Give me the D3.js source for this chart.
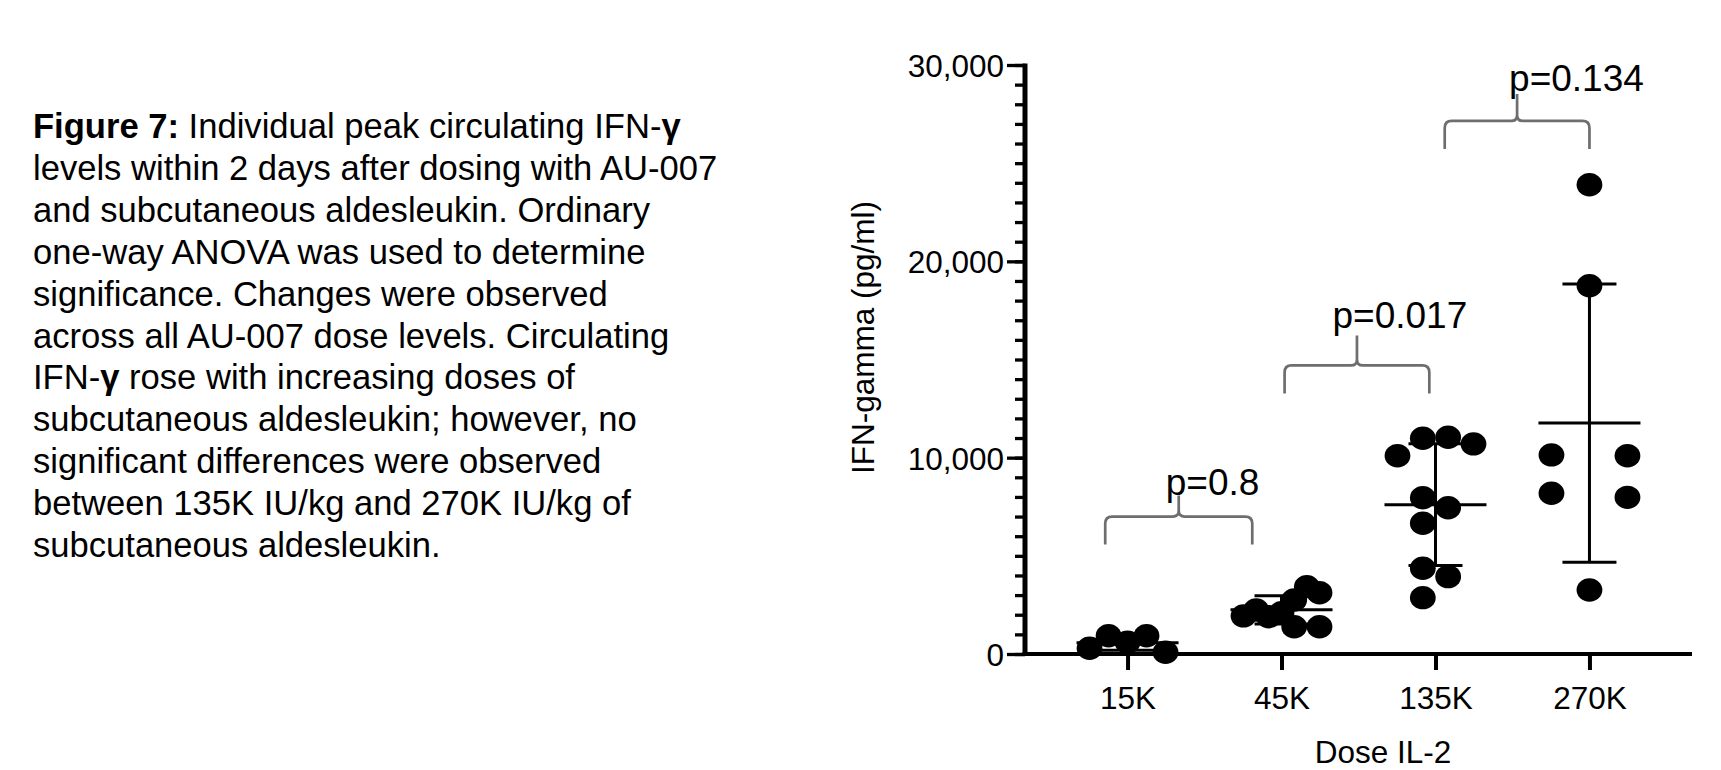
<!DOCTYPE html>
<html>
<head>
<meta charset="utf-8">
<script src="https://cdn.jsdelivr.net/npm/d3@7"></script>
<style>
  html, body { margin: 0; padding: 0; background: #fff; }
  svg { display: block; }
  text { font-family: "Liberation Sans", Arial, Helvetica, sans-serif; fill: #000; }
</style>
</head>
<body>
<svg id="chart" width="1721" height="770"></svg>
<script>
// Dose groups (IL-2, IU/kg) and individual peak IFN-gamma values (pg/ml)
const doses = ["15K", "45K", "135K", "270K"];
const ifn15K  = [290, 930, 600, 930, 90];
const ifn45K  = [1940, 2240, 1900, 2100, 2750, 3430, 3120, 1390, 1390];
const ifn135K = [10100, 10990, 11040, 10700, 7960, 7450, 6660, 4370, 3940, 2870];
const ifn270K = [23900, 18760, 10140, 10100, 8190, 7980, 3260];

// Column slot of each dot inside its group (scatter spread, in dot-width units)
const slot15K  = [-1.5, -0.75, 0, 0.75, 1.5];
const slot45K  = [-1.5, -1, -0.5, 0, 0.5, 1, 1.5, 0.5, 1.5];
const slot135K = [-1.5, -0.5, 0.5, 1.5, -0.5, 0.5, -0.5, -0.5, 0.5, -0.5];
const slot270K = [0, 0, -1.5, 1.5, -1.5, 1.5, 0];

// Axis ticks
const yMajorTicks = [0, 10000, 20000, 30000];
const yMinorStep = 1000;

// Pairwise comparisons (one-way ANOVA)
const comparePairs = [["15K", "45K"], ["45K", "135K"], ["135K", "270K"]];
const pLabels = ["p=0.8", "p=0.017", "p=0.134"];
const bracketLevels = [7000, 14700, 27150];

// Caption
const captionLines = [
  [{t: "Figure 7:", b: true}, {t: " Individual peak circulating IFN-"}, {t: "\u03b3", b: true}],
  [{t: "levels within 2 days after dosing with AU-007"}],
  [{t: "and subcutaneous aldesleukin. Ordinary"}],
  [{t: "one-way ANOVA was used to determine"}],
  [{t: "significance. Changes were observed"}],
  [{t: "across all AU-007 dose levels. Circulating"}],
  [{t: "IFN-"}, {t: "\u03b3", b: true}, {t: " rose with increasing doses of"}],
  [{t: "subcutaneous aldesleukin; however, no"}],
  [{t: "significant differences were observed"}],
  [{t: "between 135K IU/kg and 270K IU/kg of"}],
  [{t: "subcutaneous aldesleukin."}]
];

const groups = doses.map((d, i) => ({
  dose: d,
  values: [ifn15K, ifn45K, ifn135K, ifn270K][i],
  slots: [slot15K, slot45K, slot135K, slot270K][i]
}));

const svg = d3.select("#chart");

// ---- caption block ----
const capX = 33, capY = 138, capLead = 41.9;
const cap = svg.append("text")
  .attr("x", capX).attr("y", capY)
  .style("font-size", "34.6px");
captionLines.forEach((line, i) => {
  line.forEach((seg, j) => {
    const ts = cap.append("tspan").text(seg.t)
      .style("font-weight", seg.b ? "bold" : "normal")
      .attr("xml:space", "preserve");
    if (j === 0) ts.attr("x", capX).attr("y", capY + i * capLead);
  });
});

// ---- scales ----
const plotLeft = 1025, plotRight = 1692, plotBottom = 654, plotTop = 65;
const y = d3.scaleLinear().domain([0, 30000]).range([plotBottom, plotTop]);
const x = d3.scalePoint().domain(doses).range([plotLeft, plotRight]).padding(0.666);
const idx = d3.scaleLinear().domain([0, doses.length - 1]).range([x(doses[0]), x(doses[doses.length - 1])]);
const slotX = d3.scaleLinear().domain([-1.5, 1.5]).range([-38, 38]);

// ---- y axis ----
const yMinor = svg.append("g").attr("transform", `translate(${plotLeft},0)`)
  .call(d3.axisLeft(y).tickValues(d3.range(0, 30001, yMinorStep)).tickSize(10).tickFormat(""));
yMinor.select(".domain").remove();
yMinor.selectAll(".tick line").attr("stroke", "#000").attr("stroke-width", 3.3);

const yMajor = svg.append("g").attr("transform", `translate(${plotLeft},0)`)
  .call(d3.axisLeft(y).tickValues(yMajorTicks).tickSize(18).tickPadding(3).tickFormat(d3.format(",")));
yMajor.select(".domain").remove();
yMajor.selectAll(".tick line").attr("stroke", "#000").attr("stroke-width", 3.3);
yMajor.selectAll(".tick text").style("font-size", "31.5px").attr("dy", "0.36em")
  .style("font-family", "'Liberation Sans', Arial, sans-serif").attr("fill", "#000");

svg.append("line")
  .attr("x1", plotLeft).attr("x2", plotLeft)
  .attr("y1", plotTop - 1.6).attr("y2", plotBottom + 2)
  .attr("stroke", "#000").attr("stroke-width", 5);

// ---- x axis ----
const xAxis = svg.append("g").attr("transform", `translate(0,${plotBottom})`)
  .call(d3.axisBottom(x).tickSize(16).tickPadding(17));
xAxis.select(".domain").remove();
xAxis.selectAll(".tick line").attr("stroke", "#000").attr("stroke-width", 4);
xAxis.selectAll(".tick text").style("font-size", "31.5px")
  .style("font-family", "'Liberation Sans', Arial, sans-serif").attr("fill", "#000");

svg.append("line")
  .attr("x1", plotLeft - 2.5).attr("x2", plotRight)
  .attr("y1", plotBottom).attr("y2", plotBottom)
  .attr("stroke", "#000").attr("stroke-width", 4);

// ---- axis titles ----
svg.append("text")
  .attr("x", 1383).attr("y", 763)
  .attr("text-anchor", "middle")
  .style("font-size", "31.5px")
  .text("Dose IL-2");

svg.append("text")
  .attr("transform", "translate(874,337.5) rotate(-90)")
  .attr("text-anchor", "middle")
  .style("font-size", "31.5px")
  .text("IFN-gamma (pg/ml)");

// ---- scatter dots ----
const dots = svg.append("g");
groups.forEach(g => {
  dots.selectAll(null)
    .data(g.values.map((v, i) => ({v, s: g.slots[i]})))
    .join("ellipse")
    .attr("cx", d => x(g.dose) + slotX(d.s))
    .attr("cy", d => y(d.v))
    .attr("rx", 12.9).attr("ry", 11.7)
    .attr("fill", "#000");
});

// ---- mean with SD ----
const stats = svg.append("g").attr("stroke", "#000").attr("stroke-width", 3);
groups.forEach(g => {
  const m = d3.mean(g.values), sd = d3.deviation(g.values);
  const cx = x(g.dose);
  stats.append("line").attr("x1", cx).attr("x2", cx).attr("y1", y(m + sd)).attr("y2", y(m - sd));
  stats.append("line").attr("x1", cx - 51).attr("x2", cx + 51).attr("y1", y(m)).attr("y2", y(m));
  [m + sd, m - sd].forEach(v => {
    stats.append("line").attr("x1", cx - 27).attr("x2", cx + 27).attr("y1", y(v)).attr("y2", y(v));
  });
});

// ---- comparison braces ----
const braceSpan = [[-0.145, 0.81], [1.02, 1.96], [2.06, 3.0]];
const braceTip = [21, 30, 27];
const labelShift = [[-13, -22], [-24.5, -37], [-8, -30]];
function bracePath(x0, x1, yh, leg, tip) {
  const xc = (x0 + x1) / 2, r = 7, rc = 6;
  return `M${x0},${yh + leg} L${x0},${yh + r} Q${x0},${yh} ${x0 + r},${yh} ` +
         `L${xc - rc},${yh} Q${xc},${yh} ${xc},${yh - rc} L${xc},${yh - tip} ` +
         `M${xc},${yh - rc} Q${xc},${yh} ${xc + rc},${yh} ` +
         `L${x1 - r},${yh} Q${x1},${yh} ${x1},${yh + r} L${x1},${yh + leg}`;
}
const braces = svg.append("g");
comparePairs.forEach((pair, i) => {
  const x0 = idx(braceSpan[i][0]), x1 = idx(braceSpan[i][1]);
  const yh = y(bracketLevels[i]);
  braces.append("path")
    .attr("d", bracePath(x0, x1, yh, 28, braceTip[i]))
    .attr("fill", "none").attr("stroke", "#6e6e6e").attr("stroke-width", 2.7)
    .attr("stroke-linejoin", "round");
  braces.append("text")
    .attr("x", (x0 + x1) / 2 + labelShift[i][0])
    .attr("y", yh + labelShift[i][1])
    .style("font-size", "37px")
    .text(pLabels[i]);
});
</script>
</body>
</html>
